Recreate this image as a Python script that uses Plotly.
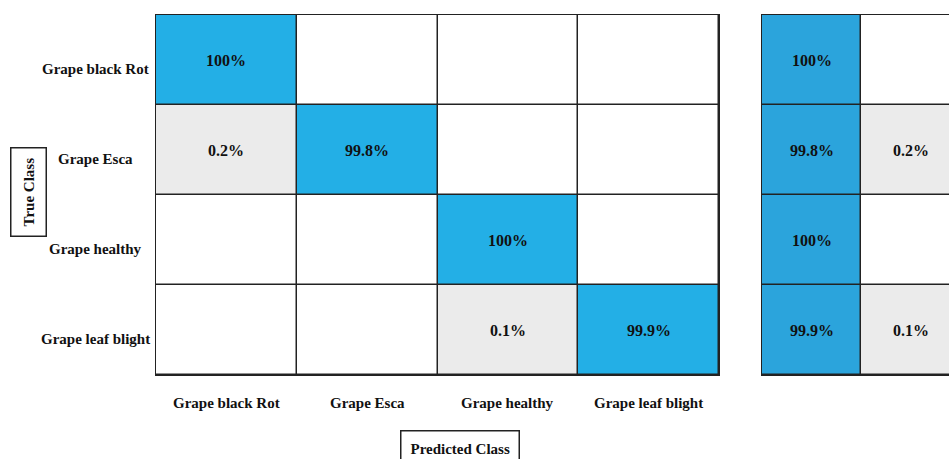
import plotly.graph_objects as go

# Class names and confusion-matrix percentages (rows = true, cols = predicted)
classes = ["Grape black Rot", "Grape Esca", "Grape healthy", "Grape leaf blight"]
confusion_pct = [
    [100.0, 0.0, 0.0, 0.0],
    [0.2, 99.8, 0.0, 0.0],
    [0.0, 0.0, 100.0, 0.0],
    [0.0, 0.0, 0.1, 99.9],
]
# Per-class summary: correct %, misclassified %
correct_pct = [100.0, 99.8, 100.0, 99.9]
error_pct = [0.0, 0.2, 0.0, 0.1]

BLUE = "#23AFE6"
BLUE_SIDE = "#2BA4DC"
GRAY = "#EBEBEB"
FONT = "Liberation Serif"
W, H = 949, 459


def fmt(v):
    return f"<b>{v:g}%</b>" if v > 0 else ""


n = len(classes)
# colour category: 0 = empty, 1 = off-diagonal error, 2 = correct
main_cat = [[(2 if i == j else (1 if confusion_pct[i][j] > 0 else 0)) for j in range(n)] for i in range(n)]
main_txt = [[fmt(v) for v in row] for row in confusion_pct]

side_cat = [[2, 1 if e > 0 else 0] for e in error_pct]
side_txt = [[fmt(c), fmt(e)] for c, e in zip(correct_pct, error_pct)]

fig = go.Figure()
fig.add_trace(go.Heatmap(
    z=main_cat, x=list(range(n)), y=list(range(n)),
    text=main_txt, texttemplate="%{text}",
    textfont=dict(family=FONT, size=16, color="#111"),
    colorscale=[[0, "white"], [0.5, GRAY], [1, BLUE]], zmin=0, zmax=2,
    showscale=False, xgap=1.5, ygap=1.5, hoverinfo="skip",
    xaxis="x", yaxis="y",
))
fig.add_trace(go.Heatmap(
    z=side_cat, x=[0, 1], y=list(range(n)),
    text=side_txt, texttemplate="%{text}",
    textfont=dict(family=FONT, size=16, color="#111"),
    colorscale=[[0, "white"], [0.5, GRAY], [1, BLUE_SIDE]], zmin=0, zmax=2,
    showscale=False, xgap=1.5, ygap=1.5, hoverinfo="skip",
    xaxis="x2", yaxis="y2",
))

x0, x1 = 156 / W, 719 / W
y0, y1 = (H - 375) / H, (H - 15) / H
sx0 = 762 / W
side_span = (W - 762) / 99.0  # visible columns of the summary panel

axis_common = dict(showgrid=False, zeroline=False, showticklabels=False, ticks="",
                   showline=True, linecolor="#222", linewidth=1.2)
fig.update_layout(
    width=W, height=H,
    margin=dict(l=0, r=0, t=0, b=0),
    paper_bgcolor="white", plot_bgcolor="#222",
    xaxis=dict(domain=[x0, x1], range=[-0.5, n - 0.5], mirror=True, **axis_common),
    yaxis=dict(domain=[y0, y1], range=[n - 0.5, -0.5], mirror=True, **axis_common),
    xaxis2=dict(domain=[sx0, 1], range=[-0.5, -0.5 + side_span], mirror=True,
                anchor="y2", **axis_common),
    yaxis2=dict(domain=[y0, y1], range=[n - 0.5, -0.5], mirror=False,
                anchor="x2", **axis_common),
    showlegend=False,
)

ann = []
# row labels
for i, name in enumerate(classes):
    ann.append(dict(text=f"<b>{name}</b>", xref="paper", yref="y", x=95 / W, y=i + 0.1,
                    xanchor="center", yanchor="middle", showarrow=False,
                    font=dict(family=FONT, size=15, color="#111")))
# column labels
for j, name in enumerate(classes):
    ann.append(dict(text=f"<b>{name}</b>", xref="x", yref="paper", x=j, y=(H - 403) / H,
                    xanchor="center", yanchor="middle", showarrow=False,
                    font=dict(family=FONT, size=15, color="#111")))
# axis titles in boxes
ann.append(dict(text="<b>True Class</b>", xref="paper", yref="paper", x=29 / W, y=(H - 192) / H,
                textangle=-90, showarrow=False, xanchor="center", yanchor="middle",
                font=dict(family=FONT, size=15, color="#111"),
                bordercolor="#222", borderwidth=1.5, borderpad=9, bgcolor="white"))
ann.append(dict(text="<b>Predicted Class</b>", xref="paper", yref="paper", x=460 / W, y=(H - 448) / H,
                showarrow=False, xanchor="center", yanchor="middle",
                font=dict(family=FONT, size=15, color="#111"),
                bordercolor="#222", borderwidth=1.5, borderpad=9, bgcolor="white"))
fig.update_layout(annotations=ann)

fig.write_html("out.html")
